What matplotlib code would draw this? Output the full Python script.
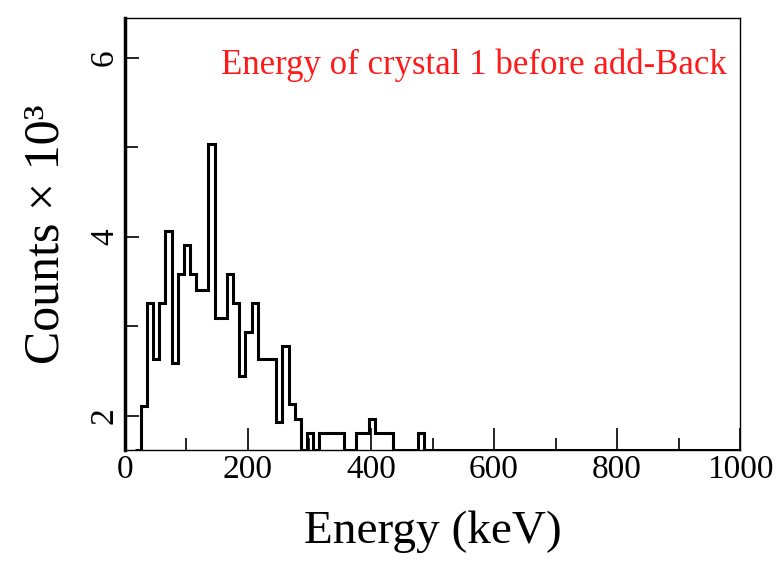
import matplotlib
matplotlib.use("Agg")
import matplotlib.pyplot as plt
import matplotlib.ticker
import numpy as np

# bin edges (keV) and contents (counts x 10^3)
edges = [16, 26, 36, 46, 56, 66, 76, 86, 96, 106, 116, 126, 136, 146, 156, 166,
         176, 186, 196, 206, 216, 226, 236, 246, 256, 266, 276, 286, 296, 306,
         316, 326, 336, 346, 356, 366, 376, 386, 396, 406, 416, 426, 436, 446,
         456, 466, 476, 486, 1000]
counts = [1.62, 2.11, 3.26, 2.63, 3.26, 4.07, 2.59, 3.59, 3.91, 3.59, 3.41, 3.41,
          5.04, 3.09, 3.09, 3.59, 3.26, 2.44, 2.94, 3.26, 2.63, 2.63, 2.63, 1.93,
          2.78, 2.13, 1.96, 1.62, 1.81, 1.62, 1.81, 1.81, 1.81, 1.81, 1.62, 1.62,
          1.81, 1.81, 1.96, 1.81, 1.81, 1.81, 1.62, 1.62, 1.62, 1.62, 1.81, 1.62]

plt.rcParams["font.family"] = ["Liberation Serif", "DejaVu Serif"]

fig = plt.figure(figsize=(7.8, 5.73), dpi=100)
ax = fig.add_axes((0.16, 0.215, 0.789, 0.754))
ax.stairs(counts, edges, color="black", linewidth=2.2, baseline=None)

ax.set_xlim(0, 1000)
ax.set_ylim(1.62, 6.45)
ax.xaxis.set_major_locator(matplotlib.ticker.MultipleLocator(200))
ax.xaxis.set_minor_locator(matplotlib.ticker.MultipleLocator(100))
ax.yaxis.set_major_locator(matplotlib.ticker.MultipleLocator(2))
ax.yaxis.set_minor_locator(matplotlib.ticker.MultipleLocator(1))
ax.tick_params(which="both", direction="in", labelsize=24, width=1.2)
ax.tick_params(which="major", length=16)
ax.tick_params(which="minor", length=9)
ax.tick_params(axis="y", which="major", length=10)
for lab in ax.get_yticklabels():
    lab.set_rotation(90)
    lab.set_va("center")
ax.spines["left"].set_linewidth(2.5)
for s in ("top", "right", "bottom"):
    ax.spines[s].set_linewidth(1.0)

ax.set_xlabel("Energy (keV)", fontsize=34, labelpad=18)
ax.set_ylabel("Counts × 10³", fontsize=36, labelpad=14)
ax.text(0.978, 0.89, "Energy of crystal 1 before add-Back", color="#ff1a1a",
        fontsize=25, ha="right", va="center", transform=ax.transAxes)

fig.savefig("out.png", dpi=100)
